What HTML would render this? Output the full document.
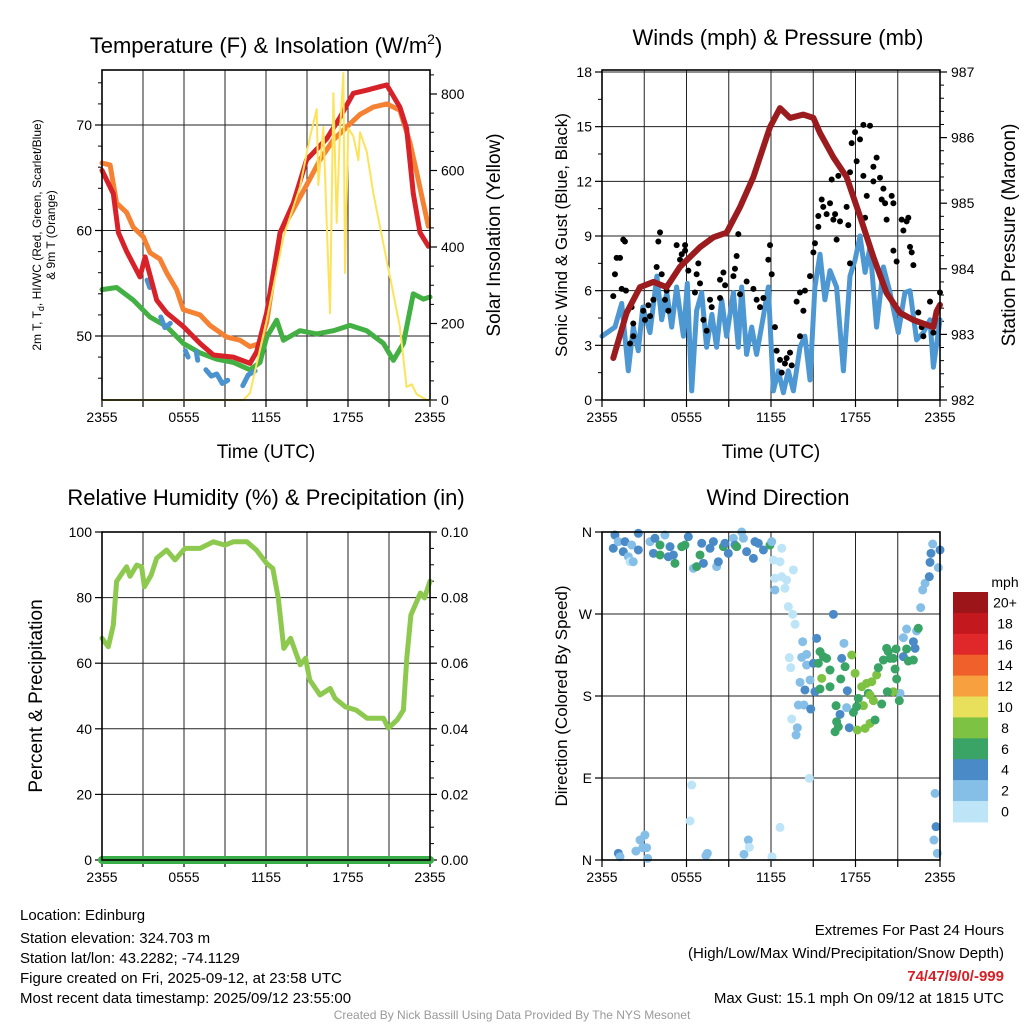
<!DOCTYPE html>
<html><head><meta charset="utf-8">
<style>
html,body{margin:0;padding:0;background:#fff;}
svg{display:block;font-family:"Liberation Sans",Arial,sans-serif;}
</style></head>
<body>
<svg id="chart" width="1024" height="1024" viewBox="0 0 1024 1024" xmlns="http://www.w3.org/2000/svg">
<rect width="1024" height="1024" fill="#fff"/>
<text x="266" y="53" font-size="22" text-anchor="middle">Temperature (F) &amp; Insolation (W/m<tspan dy="-9" font-size="14">2</tspan><tspan dy="9">)</tspan></text>
<text x="778" y="45" font-size="22" text-anchor="middle">Winds (mph) &amp; Pressure (mb)</text>
<text x="266" y="505" font-size="22" text-anchor="middle">Relative Humidity (%) &amp; Precipitation (in)</text>
<text x="778" y="505" font-size="22" text-anchor="middle">Wind Direction</text>
<text x="266" y="458" font-size="19" text-anchor="middle">Time (UTC)</text>
<text x="771" y="458" font-size="19" text-anchor="middle">Time (UTC)</text>
<text transform="translate(41,235) rotate(-90)" font-size="12" text-anchor="middle">2m T, T<tspan font-size="9" dy="3">d</tspan><tspan dy="-3">, HI/WC (Red, Green, Scarlet/Blue)</tspan></text>
<text transform="translate(55,235) rotate(-90)" font-size="12" text-anchor="middle">&amp; 9m T (Orange)</text>
<text transform="translate(500,235) rotate(-90)" font-size="19" text-anchor="middle">Solar Insolation (Yellow)</text>
<text transform="translate(567,235) rotate(-90)" font-size="17" text-anchor="middle">Sonic Wind &amp; Gust (Blue, Black)</text>
<text transform="translate(1015,235) rotate(-90)" font-size="19" text-anchor="middle">Station Pressure (Maroon)</text>
<text transform="translate(42,696) rotate(-90)" font-size="19" text-anchor="middle">Percent &amp; Precipitation</text>
<text transform="translate(567,696) rotate(-90)" font-size="17" text-anchor="middle">Direction (Colored By Speed)</text>
<g font-size="15">
<text x="20" y="920">Location: Edinburg</text>
<text x="20" y="943">Station elevation: 324.703 m</text>
<text x="20" y="963">Station lat/lon: 43.2282; -74.1129</text>
<text x="20" y="983">Figure created on Fri, 2025-09-12, at 23:58 UTC</text>
<text x="20" y="1003">Most recent data timestamp: 2025/09/12 23:55:00</text>
</g>
<g font-size="15" text-anchor="end">
<text x="1004" y="935">Extremes For Past 24 Hours</text>
<text x="1004" y="958">(High/Low/Max Wind/Precipitation/Snow Depth)</text>
<text x="1004" y="981" fill="#d62027" font-weight="bold">74/47/9/0/-999</text>
<text x="1004" y="1003">Max Gust: 15.1 mph On 09/12 at 1815 UTC</text>
</g>
<text x="512" y="1019" font-size="12" fill="#999" text-anchor="middle">Created By Nick Bassill Using Data Provided By The NYS Mesonet</text>
<g id="layer"></g>
</svg>
<script>
// ---- Temperature panel data (hours since 2355) ----
const redT=[0,0.83,1.2,1.81,2.78,3.15,4.0,4.73,5.95,7.17,8.15,9.61,10.83,11.32,12.05,13.03,14.0,14.97,16.44,17.41,18.39,19.37,20.83,21.8,22.29,22.78,23.27,23.88];
const redV=[65.7,63.5,59.8,58,55.6,57.5,53.4,52.2,50.9,49.3,48.2,48,47.4,48.5,52.2,59.8,62.6,66.7,68.7,70.7,73,73.3,73.8,71.7,69.7,63.5,59.8,58.5];
const orangeT=[0,0.59,1.07,1.81,2.29,3.02,3.51,4.24,4.73,5.46,5.95,7.17,7.9,9.12,10.1,10.83,11.56,12.05,13.03,14.0,14.97,15.95,16.93,17.9,18.88,19.85,20.83,21.8,22.54,23.03,23.51,23.88];
const orangeV=[66.4,66.2,62.6,61.7,60.3,59.4,57.9,57.3,56,54.4,52.5,52,51,49.9,49.6,49,49.3,51.3,59.8,62,64.3,66.7,68.6,69.8,71,71.7,72,71.4,68.3,65.5,62.6,60.4];
const greenT=[0,1.07,2.29,3.51,4.73,5.95,7.17,8.39,9.61,10.83,11.56,12.05,12.78,13.27,14.49,15.71,16.93,18.15,19.37,20.59,21.32,22.05,22.78,23.51,24];
const greenV=[54.4,54.6,53.4,51.8,50.9,49.3,48.4,47.8,47.5,46.8,47.5,49.9,51.5,49.6,50.5,50.2,50.5,51,50.5,49.3,47.7,49.3,54,53.5,53.7];
const hiwcT=[3.3,3.5,null,4.3,4.6,5.0,null,6.1,6.3,null,6.9,7.0,null,7.6,8.0,8.4,8.8,9.2,null,10.3,10.7,11.2];
const hiwcV=[55.3,54.6,null,51.8,50.8,51.2,null,48.6,48,null,48.5,47.7,null,46.8,46.2,46.4,45.5,45.8,null,45.3,46.3,46.7];
const solarT=[0,10.34,10.83,12.05,13.27,14.49,15.22,15.71,15.83,16.2,16.44,16.68,16.93,17.17,17.41,17.66,17.78,18.02,18.39,18.76,18.88,19.37,19.85,21.07,21.8,22.29,22.66,23.03,23.76,24];
const solarV=[0,0,18,209,426,557,688,760,562,714,463,227,802,463,700,855,332,710,690,627,700,650,541,322,191,34,41,15,0,0];
// ---- Winds panel data ----
const windT=[0,0.92,1.4,1.87,2.22,2.58,2.9,3.41,3.9,4.24,4.6,4.95,5.3,5.78,6.06,6.37,6.72,7.08,7.43,7.8,8.14,8.5,8.85,9.33,9.68,9.92,10.27,10.63,10.98,11.46,11.81,12.17,12.52,12.88,13.23,13.59,14.06,14.41,14.77,15.12,15.48,15.83,16.19,16.66,17.14,17.61,17.97,18.32,18.68,19.03,19.5,19.98,20.45,21.04,21.51,21.87,22.34,22.82,23.29,23.53,24];
const windV=[3.5,4.0,5.3,1.6,4.0,2.7,5.1,3.7,6.8,4.4,5.9,4.0,6.2,3.5,6.4,0.5,4.9,5.9,2.9,4.7,2.9,5.5,3.5,5.9,2.9,6.2,2.5,4.0,2.5,4.6,6.2,0.5,1.6,0.4,1.6,0.5,2.9,3.5,1.1,6.2,8.0,5.5,7.1,6.2,1.6,6.8,7.7,9.0,7.0,8.4,4.0,7.3,5.9,3.7,5.9,6.0,3.3,3.7,4.4,1.8,4.4];
const gustT=[0.8,0.92,1.04,1.28,1.51,1.63,1.4,1.7,2.1,2.22,2.22,1.99,2.93,3.05,3.29,3.41,3.65,3.88,4.0,4.12,4.24,4.59,4.71,4.47,5.3,5.54,5.66,5.9,5.9,6.13,6.6,6.72,6.84,6.96,7.2,7.43,7.67,7.79,8.38,8.38,8.62,8.74,9.33,9.44,9.56,9.68,9.8,10.27,10.75,10.98,11.22,11.46,11.81,11.93,12.05,12.28,12.4,12.64,12.76,12.99,13.11,13.35,13.47,13.82,14.06,14.06,14.3,14.41,14.77,15.01,15.12,15.36,15.36,15.6,15.71,15.95,16.19,16.31,16.43,16.55,16.66,16.78,16.9,17.37,17.49,17.61,17.61,17.73,17.97,18.08,18.32,18.56,19.03,18.56,18.68,18.8,19.27,19.27,19.5,19.74,19.86,19.98,20.1,20.21,20.57,20.69,20.69,20.92,21.28,21.4,21.75,21.63,21.87,21.99,22.11,22.46,22.7,22.82,23.29,23.53,24.0];
const gustV=[5.7,6.9,7.8,7.8,8.8,8.7,6.1,6.0,5.1,4.2,3.5,3.1,4.9,4.4,5.2,4.6,5.5,7.3,8.7,9.2,6.9,6.0,4.9,5.5,8.5,7.7,8.0,8.5,8.2,7.1,5.9,6.9,7.5,6.4,4.4,3.8,5.5,5.1,5.6,6.6,7.0,6.3,6.8,7.2,7.9,9.1,5.8,6.5,6.1,5.5,5.1,5.6,7.7,8.5,6.9,4.0,2.7,2.2,1.5,2.0,2.3,2.6,1.9,5.4,5.9,3.5,4.9,6.0,6.8,8.1,8.6,9.5,10.1,11.0,10.6,10.2,10.8,12.1,9.9,10.2,8.8,12.3,9.8,10.6,9.6,7.5,12.5,14.1,14.7,13.1,14.3,15.1,15.05,12.3,10.0,11.2,12.8,12.0,13.3,12.2,11.0,11.6,10.8,9.9,11.2,10.8,8.2,7.6,9.9,9.3,10.0,9.8,8.4,8.1,7.4,4.8,4.0,3.5,5.4,3.7,5.9];
const presT=[0.8,1.75,2.7,3.65,4.59,5.54,6.96,7.91,8.85,9.8,10.75,11.93,12.64,13.35,14.3,15.01,15.48,16.43,17.37,18.32,19.27,20.21,21.16,22.11,23.53,23.76,24.0];
const presV=[982.64,983.33,983.72,983.8,983.72,984.03,984.33,984.48,984.55,984.94,985.4,986.16,986.45,986.3,986.35,986.3,986.07,985.7,985.4,984.8,984.18,983.63,983.33,983.22,983.11,983.35,983.45];
// ---- RH panel data ----
const rhT=[0,0.46,0.83,1.07,1.56,1.8,2.05,2.54,2.9,3.1,3.6,4.0,4.73,5.34,6.07,7.17,8.15,9.0,9.6,10.6,11.3,12.05,12.5,12.9,13.3,13.8,14.5,14.9,15.2,15.95,16.7,17.05,17.8,18.6,19.4,20.6,20.95,21.6,22.05,22.3,22.6,23.3,23.6,24];
const rhV=[67.6,65,71.6,84.9,88,89.4,86.5,89.9,89.4,83.3,86.9,92,94.5,91.5,95,95,97,96,97,97,94.5,90.4,88.9,79.8,64.5,67.6,59.5,61.5,54.9,50.3,52.3,49.3,46.7,45.7,43.2,43.2,40.2,42.7,45.7,61.6,74.7,81.4,79.9,85];
const precipT=[0,24];
const precipV=[0,0];
// ---- Wind direction panel data ----
const dirT=[0.92,0.8,1.16,1.51,1.63,1.87,1.99,2.22,2.11,2.58,2.58,3.41,3.65,3.76,4.12,4.12,4.47,4.71,4.83,5.18,5.07,5.66,5.89,6.13,6.49,6.72,6.96,7.08,7.2,7.67,7.91,8.14,8.26,8.62,8.73,8.97,9.33,9.44,9.56,9.92,10.04,10.27,10.75,10.86,11.1,11.46,11.93,12.05,12.17,12.64,12.76,13.59,12.28,12.76,13.11,12.28,12.99,13.23,13.54,13.71,
14.25,15.24,16.43,13.3,14.18,14.53,13.4,14.53,15.01,15.48,15.72,15.95,15.36,16.19,15.6,16.19,14.06,14.41,14.77,15.12,15.48,16.95,17.02,17.26,17.18,17.73,17.97,17.42,18.44,18.79,19.15,19.5,19.62,20.21,20.33,20.88,20.81,20.92,20.45,19.98,20.69,21.4,21.75,22.11,22.23,22.11,21.63,21.63,21.4,22.34,22.46,21.16,20.69,21.11,20.26,19.86,19.27,18.91,19.03,18.56,18.2,18.08,17.85,17.37,16.9,16.62,16.66,16.78,16.55,17.56,18.13,18.68,19.03,19.39,13.94,14.34,14.82,13.47,13.87,13.78,
22.63,22.77,22.94,23.24,23.88,23.29,23.36,23.48,24.0,
1.16,1.28,2.41,2.7,3.05,2.89,3.17,3.24,6.37,6.25,7.48,7.38,10.08,10.39,10.46,12.07,12.64,14.72,23.65,23.72,23.57,23.81];
const dirDeg=[356.7,342.1,349.4,338.4,349.4,332.9,327.4,327.4,345.7,340.3,358.6,349.4,336.6,353.1,345.7,334.8,356.7,332.9,343.9,325.6,334.8,343.9,345.7,354.9,320.1,322,334.8,347.6,325.6,342.1,349.4,322,327.4,343.9,347.6,336.6,353.1,345.7,343.9,360,353.1,338.4,331.1,349.4,347.6,340.3,345.7,349.4,329.3,327.4,342.1,318.3,309.2,311,307.3,296.4,298.2,278.1,269.6,258.7,
239.6,243.3,269.6,222.1,222.4,225.7,211.1,214,215.9,228.7,223.2,221.3,215.9,208.5,199.4,190.2,195,186.6,197.6,184.7,187.7,198.7,221.3,212.2,237.8,225,204.9,185.8,190.2,193.9,195.7,203.1,211.1,232.3,228.7,231.6,209.6,198.7,221.3,219.5,221.3,223.2,218.4,219.5,232.3,239.6,231.6,253.5,244,251.4,254.3,182.9,184.7,174.9,184.7,171.2,174.9,182.9,181.1,169.4,177.4,168.3,162.1,167.2,159.9,169.4,151.8,146.3,140.8,145.2,142.7,144.5,150,153.7,170.1,170.1,165.7,154.7,145.2,137.2,
277,296.4,303.7,311,320.9,326.7,336.6,346.8,340.3,
7.3,3.6,9.8,21.9,27.4,13.5,13.5,1.8,82.3,42.8,7.3,4.7,6.2,21.9,13.9,3.6,35.8,89.6,73.1,36.6,21.9,7.3];
const dirSpd=[5,5,3,5,5,3,1,3,3,5,5,3,5,5,7,7,3,5,5,7,5,7,7,5,3,7,7,5,5,5,5,3,5,7,5,5,3,5,7,3,3,5,5,5,5,5,7,3,1,1,1,1,1,1,1,3,1,1,1,1,
3,5,5,1,3,3,1,3,5,7,7,7,7,7,9,7,3,5,3,5,7,7,5,7,3,9,9,5,9,9,9,9,7,7,7,7,7,7,7,7,7,5,7,7,5,5,7,3,3,3,7,3,9,7,7,7,9,7,9,9,7,7,7,3,5,7,7,7,7,5,9,9,9,7,3,3,5,1,3,3,
3,3,3,5,3,5,5,3,5,
5,3,3,3,3,3,3,3,1,1,3,3,3,3,1,1,1,1,3,5,3,3];
const speedBins=["0","2","4","6","8","10","12","14","16","18","20+"];
const speedColors=["#bde5f7","#85bfe7","#4a8ac6","#3aa366","#7dc242","#e8e05a","#f7a040","#f0602a","#e0282a","#c4181f","#9c1619"];
const hourTicks=["2355","0555","1155","1755","2355"];

const NS="http://www.w3.org/2000/svg";
const layer=document.getElementById('layer');
function mk(tag,attrs,parent){const e=document.createElementNS(NS,tag);for(const k in attrs)e.setAttribute(k,attrs[k]);(parent||layer).appendChild(e);return e;}
function lin(d0,d1,r0,r1){return v=>r0+(v-d0)*(r1-r0)/(d1-d0);}
function pathD(T,V,sx,sy){let d="",pen=false;for(let i=0;i<T.length;i++){if(T[i]===null||V[i]===null){pen=false;continue;}d+=(pen?"L":"M")+sx(T[i]).toFixed(1)+","+sy(V[i]).toFixed(1);pen=true;}return d;}

function panel(name,x0,x1,y0,y1,leftTicks,leftLabels,leftMinor,sLeft,rightTicks,rightLabels,rightMinor,sRight){
  const g=mk('g',{});
  
  
  const sx=lin(0,24,x0,x1);
  // vertical grid
  for(let h=3;h<24;h+=3){const l=mk('line',{x1:sx(h),x2:sx(h),y1:y0,y2:y1,stroke:'#222','stroke-width':1},g);}
  for(let h=0;h<=24;h+=3){mk('line',{x1:sx(h),x2:sx(h),y1:y1,y2:y1+7,stroke:'#000','stroke-width':1.2},g);}
  hourTicks.forEach((lab,i)=>{const t=mk('text',{x:sx(i*6),y:y1+22,'font-size':14,'text-anchor':'middle'},g);t.textContent=lab;});
  leftTicks.forEach((v,i)=>{const y=sLeft(v);if(y>y0+1&&y<y1-1){const l=mk('line',{x1:x0,x2:x1,y1:y,y2:y,stroke:'#222','stroke-width':1},g);}
    mk('line',{x1:x0-7,x2:x0,y1:y,y2:y,stroke:'#000','stroke-width':1.2},g);
    const t=mk('text',{x:x0-10,y:y+5,'font-size':14,'text-anchor':'end'},g);t.textContent=leftLabels[i];});
  leftMinor.forEach(v=>{const y=sLeft(v);mk('line',{x1:x0-4,x2:x0,y1:y,y2:y,stroke:'#000','stroke-width':1},g);});
  if(rightTicks){rightTicks.forEach((v,i)=>{const y=sRight(v);mk('line',{x1:x1,x2:x1+7,y1:y,y2:y,stroke:'#000','stroke-width':1.2},g);
    const t=mk('text',{x:x1+11,y:y+5,'font-size':14},g);t.textContent=rightLabels[i];});
    rightMinor.forEach(v=>{const y=sRight(v);mk('line',{x1:x1,x2:x1+4,y1:y,y2:y,stroke:'#000','stroke-width':1},g);});}
  return {sx,g};
}
function frame(name,x0,x1,y0,y1){const r=mk('rect',{x:x0,y:y0,width:x1-x0,height:y1-y0,fill:'none',stroke:'#000','stroke-width':1.6});}
function series(name,T,V,sx,sy,color,w){const p=mk('path',{d:pathD(T,V,sx,sy),fill:'none',stroke:color,'stroke-width':w,'stroke-linejoin':'round','stroke-linecap':'round'});return p;}

// Panel 1
{const x0=102,x1=430,y0=70,y1=400;
 const sy=lin(50,70,336,125), sr=lin(0,800,400,94);
 const minor=[];for(let v=46;v<=74;v+=2)if(v%10)minor.push(v);
 const rminor=[];for(let v=50;v<=850;v+=50)if(v%200)rminor.push(v);
 const {sx}=panel('temp',x0,x1,y0,y1,[50,60,70],["50","60","70"],minor,sy,[0,200,400,600,800],["0","200","400","600","800"],rminor,sr);
 series('dewpoint-line',greenT,greenV,sx,sy,'#43b044',5);
 series('hiwc-line',hiwcT,hiwcV,sx,sy,'#4b93cf',5);
 series('temp-9m-line',orangeT,orangeV,sx,sy,'#f58233',5);
 series('temp-2m-line',redT,redV,sx,sy,'#d7222a',5);
 series('solar-line',solarT,solarV,sx,sr,'#fde35a',2);
 frame('temp',x0,x1,y0,y1);}
// Panel 2
{const x0=602,x1=940,y0=70,y1=400;
 const sy=lin(0,18,400,72), sr=lin(982,987,400,72);
 const lt=[0,3,6,9,12,15,18];
 const minor=[1.5,4.5,7.5,10.5,13.5,16.5];
 const rminor=[];for(let v=982.2;v<987;v+=0.2){if(Math.abs(v-Math.round(v))>0.05)rminor.push(v);}
 const {sx}=panel('wind',x0,x1,y0,y1,lt,lt.map(String),minor,sy,[982,983,984,985,986,987],["982","983","984","985","986","987"],rminor,sr);
 series('sonic-wind-line',windT,windV,sx,sy,'#4d97d3',5);
 const gg=mk('g',{});
 gustT.forEach((t,i)=>{const c=mk('circle',{cx:sx(t),cy:sy(gustV[i]),r:3,fill:'#000'},gg);});
 series('pressure-line',presT,presV,sx,sr,'#9b1b1e',6);
 frame('wind',x0,x1,y0,y1);}
// Panel 3
{const x0=102,x1=430,y0=532,y1=860;
 const sy=lin(0,100,860,532), sr=lin(0,0.1,860,532);
 const minor=[5,10,15,25,30,35,45,50,55,65,70,75,85,90,95];
 const rminor=[];for(let v=0.005;v<0.1;v+=0.005){if(Math.round(v*1000)%20)rminor.push(v);}
 const {sx}=panel('rh',x0,x1,y0,y1,[0,20,40,60,80,100],["0","20","40","60","80","100"],[],sy,[0,0.02,0.04,0.06,0.08,0.1],["0.00","0.02","0.04","0.06","0.08","0.10"],rminor,sr);
 series('rh-line',rhT,rhV,sx,sy,'#8dc94e',5);
 series('precip-line',precipT,precipV,sx,sr,'#3aae49',8);
 frame('rh',x0,x1,y0,y1);}
// Panel 4
{const x0=602,x1=940,y0=532,y1=860;
 const sy=lin(0,360,860,532);
 const {sx}=panel('dir',x0,x1,y0,y1,[0,90,180,270,360],["N","E","S","W","N"],[],sy,null);
 const dg=mk('g',{});
 dirT.forEach((t,i)=>{const bi=Math.min(10,Math.floor(dirSpd[i]/2));const c=mk('circle',{cx:sx(t),cy:sy(dirDeg[i]),r:4.5,fill:speedColors[bi]},dg);});
 frame('dir',x0,x1,y0,y1);
 const cb=mk('g',{});
 const mph=mk('text',{x:1005,y:587,'font-size':14,'text-anchor':'middle'},cb);mph.textContent='mph';
 const bh=20.9;
 for(let k=0;k<11;k++){const idx=10-k;const yy=592+k*bh;
  const r=mk('rect',{x:953,y:yy,width:35,height:bh+0.5,fill:speedColors[idx]},cb);
  const t=mk('text',{x:1005,y:yy+bh/2+5,'font-size':14,'text-anchor':'middle'},cb);t.textContent=speedBins[idx];}
}
</script>
</body></html>
